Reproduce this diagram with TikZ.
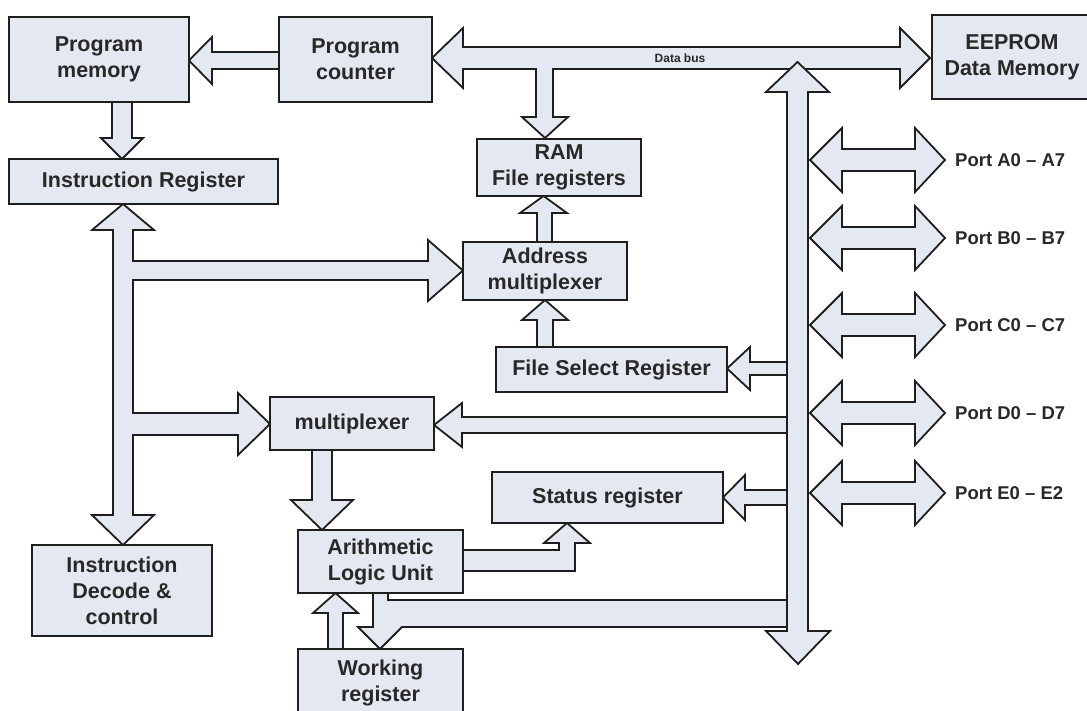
\documentclass[tikz,border=0pt]{standalone}
\usepackage{fontspec}
\setmainfont{Liberation Sans}
\definecolor{boxfill}{RGB}{228,233,241}
\definecolor{edge}{RGB}{30,30,30}
\definecolor{ink}{RGB}{40,40,40}
\begin{document}
\begin{tikzpicture}[x=1pt,y=-1pt,
  box/.style={draw=edge, fill=boxfill, line width=1.8pt, align=center, inner sep=0pt,
    text=ink, font=\bfseries\fontsize{21.5}{26}\selectfont},
  barrow/.style={draw=edge, fill=boxfill, line width=1.8pt, line join=miter},
  portlbl/.style={anchor=west, text=ink, inner sep=0pt, font=\bfseries\fontsize{18.5}{22}\selectfont},
  buslbl/.style={text=ink, inner sep=0pt, font=\bfseries\fontsize{12}{14}\selectfont}]
\useasboundingbox (0,0) rectangle (1087,710);
\clip (0,0) rectangle (1087,710);
\fill[white] (0,0) rectangle (1087,710);

% ---- block arrows ----
% program counter -> program memory
\draw[barrow] (279,52) -- (212,52) -- (212,37) -- (189,60.5) -- (212,84) -- (212,69) -- (279,69) -- cycle;
% program memory -> instruction register
\draw[barrow] (112,102) -- (112,138) -- (101,138) -- (122,159) -- (143,138) -- (132,138) -- (132,102) -- cycle;
% left vertical bus with its two branches
\draw[barrow] (123,204) -- (154,230) -- (133,230) -- (133,261) -- (428,261) -- (428,240)
  -- (463,270.5) -- (428,301) -- (428,280) -- (133,280) -- (133,413) -- (238,413) -- (238,393)
  -- (270,424) -- (238,455) -- (238,435) -- (133,435) -- (133,515) -- (154,515) -- (123,545)
  -- (92,515) -- (113,515) -- (113,230) -- (92,230) -- cycle;
% data bus with RAM branch
\draw[barrow] (432,58) -- (463,28) -- (463,47) -- (900,47) -- (900,28) -- (930,58) -- (900,88)
  -- (900,69) -- (553,69) -- (553,117) -- (568,117) -- (545,138) -- (522,117) -- (536,117)
  -- (536,69) -- (463,69) -- (463,88) -- cycle;
\node[buslbl] (dbl) at (680,58) {Data bus};
% big vertical bus
\draw[barrow] (797.5,62) -- (829,92) -- (808,92) -- (808,631) -- (830,631) -- (798,664)
  -- (766,631) -- (787,631) -- (787,92) -- (766,92) -- cycle;
% address multiplexer -> RAM
\draw[barrow] (537,242) -- (537,213) -- (520,213) -- (543.5,196) -- (567,213) -- (552,213) -- (552,242) -- cycle;
% FSR -> address multiplexer
\draw[barrow] (537,347) -- (537,320) -- (522,320) -- (545,300) -- (568,320) -- (553,320) -- (553,347) -- cycle;
% bus -> FSR
\draw[barrow] (787,362) -- (750,362) -- (750,347) -- (727,368.5) -- (750,390) -- (750,375) -- (787,375) -- cycle;
% bus -> multiplexer
\draw[barrow] (787,417) -- (462,417) -- (462,403) -- (434,425) -- (462,447) -- (462,433) -- (787,433) -- cycle;
% bus -> status register
\draw[barrow] (787,490) -- (745,490) -- (745,475) -- (723,497.5) -- (745,520) -- (745,505) -- (787,505) -- cycle;
% multiplexer -> ALU
\draw[barrow] (312,450) -- (312,500) -- (291,500) -- (322,530) -- (353,500) -- (332,500) -- (332,450) -- cycle;
% ALU -> status register
\draw[barrow] (463,550) -- (559,550) -- (559,543) -- (544,543) -- (567,523) -- (590,543)
  -- (575,543) -- (575,571) -- (463,571) -- cycle;
% working register -> ALU
\draw[barrow] (328,649) -- (328,613) -- (313,613) -- (335.5,593) -- (358,613) -- (343,613) -- (343,649) -- cycle;
% ALU -> working register and ALU -> bus
\draw[barrow] (373,593) -- (388,593) -- (388,600) -- (787,600) -- (787,627) -- (402,627)
  -- (380,649) -- (358,627) -- (373,627) -- cycle;
% port arrows
\foreach \c/\lbl [count=\i] in {160/Port A0 -- A7, 238/Port B0 -- B7, 325/Port C0 -- C7,
    413/Port D0 -- D7, 493/Port E0 -- E2}{
  \draw[barrow] (810,\c) -- (842,\c-32) -- (842,\c-11) -- (915,\c-11) -- (915,\c-32) -- (945,\c)
    -- (915,\c+32) -- (915,\c+11) -- (842,\c+11) -- (842,\c+32) -- cycle;
  \node[portlbl] (port\i) at (955,\c) {\lbl};
}

% ---- boxes ----
\node[box, minimum width=180pt, minimum height=85pt] (pm) at (99,59.5) {Program\\memory};
\node[box, minimum width=153pt, minimum height=85pt] (pc) at (355.5,59.5) {Program\\counter};
\node[box, minimum width=269pt, minimum height=45pt] (ir) at (143.5,181.5) {Instruction Register};
\node[box, minimum width=164pt, minimum height=57pt] (ram) at (559,167.5) {RAM\\File registers};
\node[box, minimum width=164pt, minimum height=58pt] (amux) at (545,271) {Address\\multiplexer};
\node[box, minimum width=231pt, minimum height=45pt] (fsr) at (611.5,369.5) {File Select Register};
\node[box, minimum width=164pt, minimum height=53pt] (mux) at (352,423.5) {multiplexer};
\node[box, minimum width=231pt, minimum height=51pt] (status) at (607.5,497.5) {Status register};
\node[box, minimum width=165pt, minimum height=63pt] (alu) at (380.5,561.5) {Arithmetic\\Logic Unit};
\node[box, minimum width=165pt, minimum height=67pt] (wr) at (380.5,682.5) {Working\\register};
\node[box, minimum width=180pt, minimum height=91pt] (idc) at (122,590.5) {Instruction\\Decode \&\\control};
\node[box, minimum width=160pt, minimum height=84pt] (eeprom) at (1012,57) {EEPROM\\Data Memory};
\end{tikzpicture}
\end{document}
